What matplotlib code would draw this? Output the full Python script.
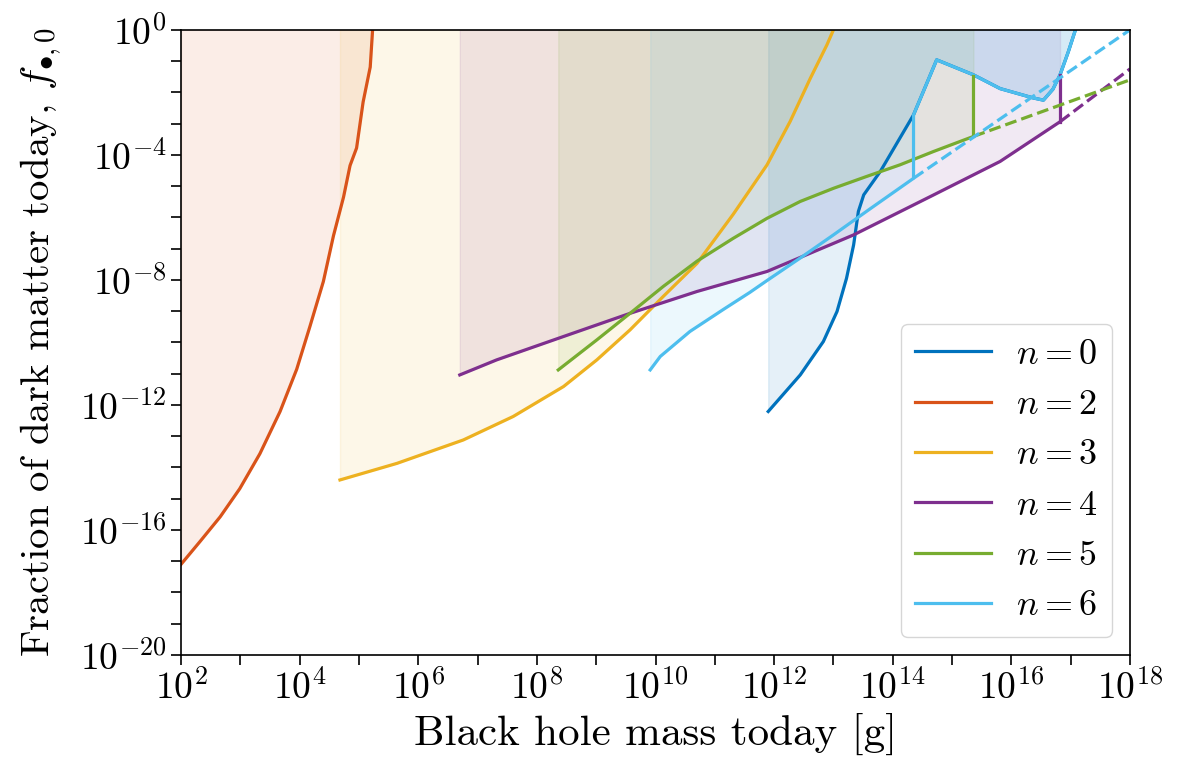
import matplotlib
matplotlib.use("Agg")
import matplotlib.pyplot as plt
import numpy as np
from matplotlib.ticker import NullFormatter

plt.rcParams['font.family'] = 'serif'
plt.rcParams['font.serif'] = ['cmr10', 'DejaVu Serif']
plt.rcParams['mathtext.fontset'] = 'cm'
plt.rcParams['axes.formatter.use_mathtext'] = True

# curves, as log10(mass [g]) and log10(f)
n0_logm = [11.9, 12.44, 12.83, 13.06, 13.22, 13.34, 13.42, 13.51, 13.79, 14.35,
           14.74, 15.36, 15.81, 16.37, 16.54, 16.7, 16.82, 16.96, 17.08]
n0_logf = [-12.21, -11.04, -9.97, -9.01, -7.95, -6.88, -5.81, -5.28, -4.53, -2.72,
           -0.96, -1.44, -1.88, -2.18, -2.25, -1.9, -1.44, -0.7, 0.0]

n2_logm = [2.0, 2.32, 2.66, 2.99, 3.33, 3.67, 3.95, 4.17, 4.40, 4.57, 4.74, 4.85,
           4.96, 5.07, 5.19, 5.23]
n2_logf = [-17.1, -16.37, -15.58, -14.68, -13.56, -12.21, -10.86, -9.51, -8.05, -6.59,
           -5.35, -4.34, -3.78, -2.31, -1.19, 0.0]

n3_logm = [4.68, 5.64, 6.76, 7.60, 8.45, 9.01, 9.57, 10.13, 10.70, 11.31, 11.88,
           12.27, 12.61, 12.89, 13.0]
n3_logf = [-14.4, -13.87, -13.12, -12.37, -11.41, -10.56, -9.6, -8.53, -7.47, -5.9,
           -4.32, -2.93, -1.55, -0.48, 0.0]

n4_logm = [6.70, 7.32, 8.45, 9.57, 10.70, 11.88, 13.34, 14.69, 15.81, 16.82]
n4_logf = [-11.04, -10.56, -9.81, -9.07, -8.37, -7.73, -6.56, -5.28, -4.21, -2.94]
n4_top = -1.44
n4_dash_logm = [16.82, 18.0]
n4_dash_logf = [-2.94, -1.25]

n5_logm = [8.36, 9.01, 9.57, 10.13, 10.70, 11.31, 11.88, 12.44, 13.0, 13.56, 14.12,
           14.69, 15.36]
n5_logf = [-10.88, -9.92, -9.07, -8.21, -7.4, -6.67, -6.03, -5.49, -5.07, -4.69, -4.32,
           -3.89, -3.41]
n5_top = -1.47
n5_dash_logm = [15.36, 18.0]
n5_dash_logf = [-3.41, -1.6]

n6_logm = [9.91, 10.08, 10.58, 11.14, 11.59, 11.88, 12.44, 13.0, 13.6, 14.35,
           14.35, 14.74, 15.36, 15.81, 16.37, 16.54, 16.7, 16.82, 16.96, 17.08]
n6_logf = [-10.88, -10.45, -9.65, -8.95, -8.4, -8.02, -7.3, -6.56, -5.75, -4.75,
           -2.72, -0.96, -1.44, -1.88, -2.18, -2.25, -1.9, -1.44, -0.7, 0.0]
n6_dash_logm = [14.35, 18.0]
n6_dash_logf = [-4.75, 0.0]

colors = {0: '#0072BD', 2: '#D95319', 3: '#EDB120', 4: '#7E2F8E', 5: '#77AC30', 6: '#4DBEEE'}

fig, ax = plt.subplots(figsize=(11.87, 7.65), dpi=100)
fig.subplots_adjust(left=0.1525, right=0.952, top=0.961, bottom=0.1438)


def p(v):
    return 10.0 ** np.asarray(v, dtype=float)


lw = 2.3
series = [
    (0, n0_logm, n0_logf),
    (2, n2_logm, n2_logf),
    (3, n3_logm, n3_logf),
    (4, n4_logm, n4_logf),
    (5, n5_logm, n5_logf),
    (6, n6_logm, n6_logf),
]
for n, lm, lf in series:
    c = colors[n]
    ax.fill_between(p(lm), p(lf), 1.0, color=c, alpha=0.1, lw=1)
    ax.plot(p(lm), p(lf), color=c, lw=lw, label=r'$n = %d$' % n)

# vertical joins and dashed continuations
ax.plot(p([n4_logm[-1], n4_logm[-1]]), p([n4_logf[-1], n4_top]), color=colors[4], lw=lw)
ax.plot(p([n5_logm[-1], n5_logm[-1]]), p([n5_logf[-1], n5_top]), color=colors[5], lw=lw)
ax.plot(p(n4_dash_logm), p(n4_dash_logf), color=colors[4], lw=lw, ls='--')
ax.plot(p(n5_dash_logm), p(n5_dash_logf), color=colors[5], lw=lw, ls='--')
ax.plot(p(n6_dash_logm), p(n6_dash_logf), color=colors[6], lw=lw, ls='--')

ax.set_xscale('log')
ax.set_yscale('log')
ax.set_xlim(1e2, 1e18)
ax.set_ylim(1e-20, 1e0)

ax.set_xticks([10.0 ** k for k in range(2, 19, 2)])
ax.set_xticks([10.0 ** k for k in range(3, 18, 2)], minor=True)
ax.set_yticks([10.0 ** k for k in range(-20, 1, 4)])
ax.set_yticks([10.0 ** k for k in range(-20, 1) if k % 4 != 0], minor=True)
ax.xaxis.set_minor_formatter(NullFormatter())
ax.yaxis.set_minor_formatter(NullFormatter())
ax.tick_params(which='both', direction='out', length=7, width=1.2, labelsize=27)
for s in ax.spines.values():
    s.set_linewidth(1.2)

ax.set_xlabel('Black hole mass today [g]', fontsize=31)
ax.set_ylabel(r'Fraction of dark matter today, $f_{\bullet,0}$', fontsize=29.5, labelpad=11)

ax.legend(loc='lower right', fontsize=26, handlelength=2.1, labelspacing=0.5,
          handletextpad=0.7, fancybox=True)

fig.savefig('out.png', dpi=100)
